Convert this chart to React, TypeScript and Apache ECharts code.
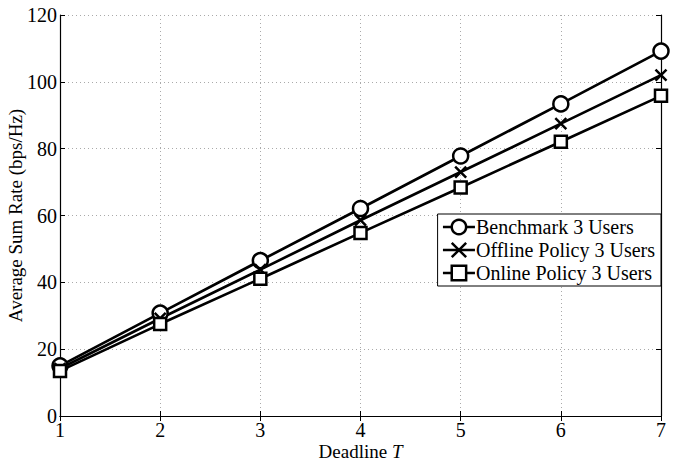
import React, { useEffect, useRef } from "react";
import * as echarts from "echarts";

const deadlines = [1, 2, 3, 4, 5, 6, 7];
const benchmark = [15.0, 30.8, 46.5, 62.1, 77.8, 93.4, 109.2];
const offline = [14.2, 29.2, 43.8, 58.6, 73.0, 87.5, 102.0];
const online = [13.5, 27.5, 41.1, 54.8, 68.4, 82.1, 95.8];
const seriesNames = ["Benchmark 3 Users", "Offline Policy 3 Users", "Online Policy 3 Users"];

const FONT = "'Liberation Serif', 'Times New Roman', serif";
const CROSS = "path://M0,0L10,10M10,0L0,10";

export default function App() {
  const ref = useRef<HTMLDivElement>(null);
  useEffect(() => {
    document.body.style.margin = "0";
    const chart = echarts.init(ref.current!, null, { renderer: "svg" });
    const mk = (name: string, data: number[], symbol: string, size: number) => ({
      name,
      type: "line",
      data: deadlines.map((d, i) => [d, data[i]]),
      symbol,
      symbolSize: size,
      showAllSymbol: true,
      lineStyle: { color: "#000", width: 2.7 },
      itemStyle: { color: symbol === CROSS ? "none" : "#fff", borderColor: "#000", borderWidth: 2.5 },
      emphasis: { disabled: true },
      z: 3,
    });
    const axisCommon = {
      axisLine: { show: true, lineStyle: { color: "#000", width: 1.2 } },
      axisTick: { show: true, inside: true, length: 5, lineStyle: { color: "#000" } },
    };
    chart.setOption({
      animation: false,
      backgroundColor: "#fff",
      textStyle: { fontFamily: FONT },
      grid: { left: 60, right: 24, top: 15, bottom: 50, containLabel: false, outerBoundsMode: "none" },
      legend: {
        right: 24,
        top: 214,
        orient: "vertical",
        backgroundColor: "#fff",
        borderColor: "#000",
        borderWidth: 1,
        borderRadius: 0,
        padding: [3, 6, 3, 4],
        itemGap: 3,
        itemWidth: 32,
        itemHeight: 18,
        lineStyle: { width: 2.7, color: "#000" },
        itemStyle: { borderWidth: 2.5, borderColor: "#000" },
        textStyle: { fontFamily: FONT, fontSize: 20, color: "#000", padding: [0, 0, 0, -4] },
        data: seriesNames,
      },
      xAxis: [
        {
          type: "value",
          min: 1,
          max: 7,
          interval: 1,
          ...axisCommon,
          axisLabel: { color: "#000", fontFamily: FONT, fontSize: 20, margin: 4 },
          splitLine: { show: true, lineStyle: { color: "#aaa", type: [1, 3], width: 1 } },
          name: "{a|Deadline }{b|T}",
          nameLocation: "middle",
          nameGap: 26,
          nameMoveOverlap: false,
          nameTextStyle: {
            rich: {
              a: { fontFamily: FONT, fontSize: 19, color: "#000" },
              b: { fontFamily: FONT, fontSize: 19, color: "#000", fontStyle: "italic" },
            },
          },
        },
        {
          type: "value",
          position: "top",
          min: 1,
          max: 7,
          interval: 1,
          ...axisCommon,
          axisLabel: { show: false },
          splitLine: { show: false },
        },
      ],
      yAxis: [
        {
          type: "value",
          min: 0,
          max: 120,
          interval: 20,
          ...axisCommon,
          axisLabel: { color: "#000", fontFamily: FONT, fontSize: 20, margin: 3 },
          splitLine: { show: true, lineStyle: { color: "#aaa", type: [1, 3], width: 1 } },
          name: "Average Sum Rate (bps/Hz)",
          nameLocation: "middle",
          nameGap: 35,
          nameMoveOverlap: false,
          nameTextStyle: { fontFamily: FONT, fontSize: 19, color: "#000" },
        },
        {
          type: "value",
          position: "right",
          min: 0,
          max: 120,
          interval: 20,
          ...axisCommon,
          axisLabel: { show: false },
          splitLine: { show: false },
        },
      ],
      series: [
        mk(seriesNames[0], benchmark, "circle", 15),
        mk(seriesNames[1], offline, CROSS, 11),
        mk(seriesNames[2], online, "rect", 12),
      ],
    });
    return () => chart.dispose();
  }, []);
  return <div ref={ref} style={{ position: "absolute", left: 0, top: 0, width: 685, height: 466 }} />;
}
